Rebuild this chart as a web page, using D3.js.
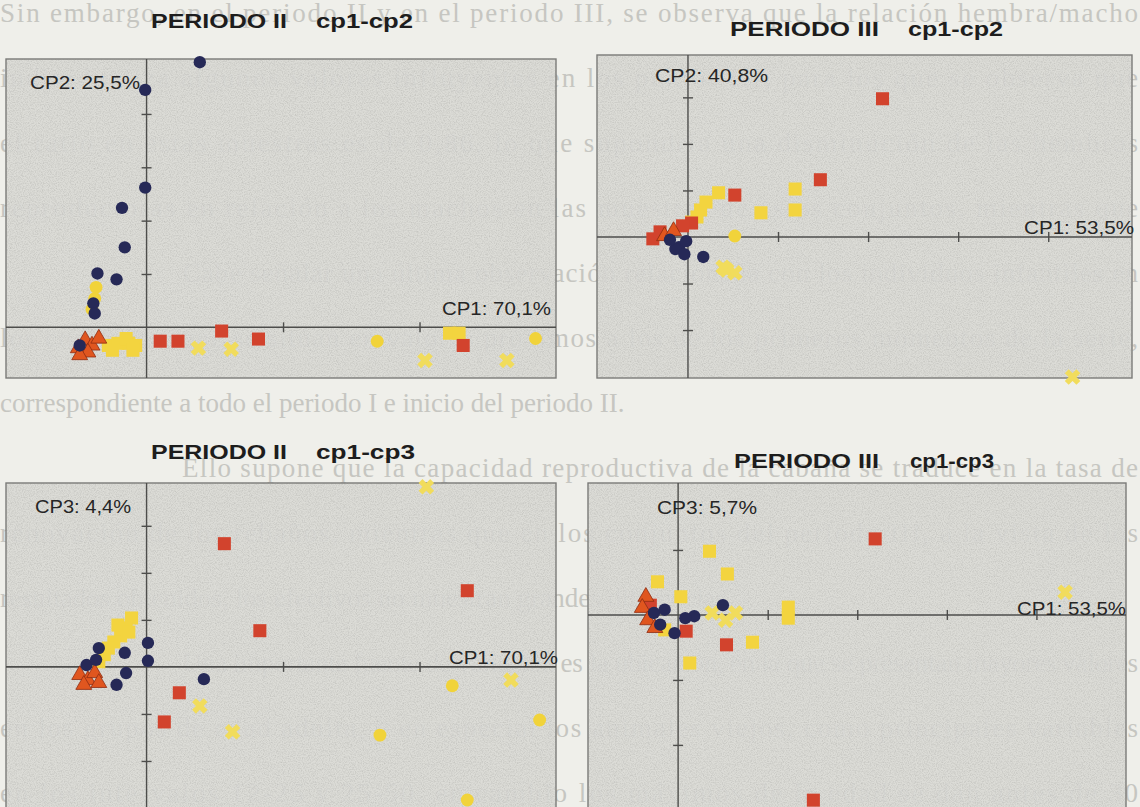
<!DOCTYPE html>
<html>
<head>
<meta charset="utf-8">
<script src="https://cdn.jsdelivr.net/npm/d3@7"></script>
<style>
  html, body { margin: 0; padding: 0; background: #efefea; }
  svg { display: block; }
</style>
</head>
<body>
<svg id="page" width="1140" height="807"></svg>
<script>
// ---- Page text (printed behind the figures) ----
const bodyLines = [
  { text: "Sin embargo, en el periodo II y en el periodo III, se observa que la relación hembra/macho", indent: 0, full: true },
  { text: "individualiza algunos valores influyentes en los puntos III, para los que se observa que", indent: 0, full: true },
  { text: "el ratio en estas muestras es de 0,86, lo que supondría una disminución de las hembras", indent: 0, full: true },
  { text: "reproductoras en relación a los machos en las muestras de estos conjuntos, mientras que", indent: 0, full: true },
  { text: "Cabe señalar una última observación relacionada con los individuos infantiles en", indent: 182, full: true },
  { text: "los conjuntos, que se sitúan en valores próximos a los de los primeros momentos de la serie,", indent: 0, full: true },
  { text: "correspondiente a todo el periodo I e inicio del periodo II.", indent: 0, full: false },
  { text: "Ello supone que la capacidad reproductiva de la cabaña se traduce en la tasa de", indent: 182, full: true },
  { text: "renovación de los rebaños, mientras que en los conjuntos del periodo III, a la vista de los", indent: 0, full: true },
  { text: "resultados obtenidos, los efectivos no muestran grandes diferencias.", indent: 0, full: false },
  { text: "Una importante fuente de variación es la ubicación, en la que se presentan mayores valores", indent: 182, full: true },
  { text: "en los grupos de edad adulta, y en especial los animales viejos, como principales variables", indent: 0, full: true },
  { text: "en los intervalos 12-25 y 25-50, en cambio los máximos de la edad se dan antes de 30", indent: 0, full: true }
];

// ---- Panel titles and axis labels ----
const panelTitles = ["PERIODO II", "PERIODO III", "PERIODO II", "PERIODO III"];
const panelSubtitles = ["cp1-cp2", "cp1-cp2", "cp1-cp3", "cp1-cp3"];
const xAxisLabels = ["CP1: 70,1%", "CP1: 53,5%", "CP1: 70,1%", "CP1: 53,5%"];
const yAxisLabels = ["CP2: 25,5%", "CP2: 40,8%", "CP3: 4,4%", "CP3: 5,7%"];

// ---- Tick values on each axis ----
const xTickValues = [[1, 2], [1, 2, 3, 4], [1, 2], [1, 2, 3, 4]];
const yTickValues = [[1, 2, 3, 4], [-2, -1, 1, 2, 3], [-3, -2, -1, 1, 2, 3], [-3, -2, -1, 1]];

// ---- Scores: PERIODO II, cp1 vs cp2 ----
const p1Navy = [[0.39, 4.97], [-0.01, 4.45], [-0.01, 2.62], [-0.18, 2.24], [-0.16, 1.50], [-0.36, 1.01], [-0.22, 0.90], [-0.39, 0.45], [-0.38, 0.26], [-0.49, -0.34]];
const p1Red = [[0.10, -0.26], [0.23, -0.26], [0.55, -0.07], [0.82, -0.22], [2.32, -0.34]];
const p1YellowSq = [[-0.28, -0.34], [-0.21, -0.30], [-0.13, -0.30], [-0.15, -0.21], [-0.08, -0.34], [-0.25, -0.43], [-0.10, -0.43], [2.22, -0.11], [2.29, -0.11]];
const p1YellowCirc = [[-0.37, 0.75], [-0.38, 0.54], [-0.40, 0.34], [1.69, -0.26], [2.85, -0.21]];
const p1YellowX = [[0.38, -0.39], [0.62, -0.41], [2.04, -0.62], [2.64, -0.62]];
const p1Orange = [[-0.50, -0.39], [-0.45, -0.24], [-0.40, -0.34], [-0.35, -0.21], [-0.43, -0.47], [-0.49, -0.52]];

// ---- Scores: PERIODO III, cp1 vs cp2 ----
const p2Navy = [[-0.10, -0.22], [-0.02, -0.09], [0.17, -0.43], [-0.14, -0.26], [-0.04, -0.37], [-0.20, -0.06]];
const p2Red = [[2.16, 2.97], [1.47, 1.23], [0.52, 0.90], [0.04, 0.30], [-0.06, 0.24], [-0.39, -0.04], [-0.31, 0.11]];
const p2YellowSq = [[0.34, 0.95], [1.19, 1.03], [1.19, 0.58], [0.81, 0.52], [0.14, 0.58], [0.10, 0.43], [0.04, 0.32], [0.20, 0.75]];
const p2YellowCirc = [[0.52, 0.02]];
const p2YellowX = [[0.43, -0.71], [0.52, -0.77], [0.39, -0.65], [4.27, -3.01]];
const p2Orange = [[-0.26, 0.02], [-0.16, 0.13]];

// ---- Scores: PERIODO II, cp1 vs cp3 ----
const p3Navy = [[0.01, 0.51], [0.01, 0.13], [-0.16, 0.30], [-0.15, -0.13], [-0.22, -0.38], [0.42, -0.26], [-0.35, 0.40], [-0.44, 0.04], [-0.37, 0.15]];
const p3Red = [[0.57, 2.62], [2.35, 1.62], [0.83, 0.77], [0.24, -0.55], [0.13, -1.17]];
const p3YellowSq = [[-0.11, 1.04], [-0.15, 0.83], [-0.19, 0.66], [-0.24, 0.53], [-0.28, 0.40], [-0.31, 0.26], [-0.35, 0.11], [-0.21, 0.89], [-0.13, 0.74]];
const p3YellowCirc = [[2.24, -0.40], [1.71, -1.45], [2.88, -1.13], [2.35, -2.83]];
const p3YellowX = [[2.05, 3.83], [0.39, -0.83], [0.63, -1.38], [2.67, -0.28]];
const p3Orange = [[-0.49, -0.17], [-0.43, -0.28], [-0.38, -0.13], [-0.46, -0.38], [-0.35, -0.34]];

// ---- Scores: PERIODO III, cp1 vs cp3 ----
const p4Navy = [[0.50, 0.15], [0.18, -0.02], [-0.04, -0.28], [-0.27, 0.03], [-0.15, 0.08], [0.08, -0.05], [-0.20, -0.15]];
const p4Red = [[2.20, 1.17], [0.54, -0.46], [1.51, -2.85], [0.09, -0.25], [-0.31, 0.15]];
const p4YellowSq = [[0.35, 0.98], [0.55, 0.63], [-0.23, 0.51], [0.03, 0.28], [1.23, 0.12], [1.23, -0.05], [0.83, -0.42], [0.13, -0.74], [-0.15, -0.23]];
const p4YellowCirc = [];
const p4YellowX = [[4.32, 0.35], [0.38, 0.03], [0.64, 0.03], [0.53, -0.08]];
const p4Orange = [[-0.36, 0.28], [-0.40, 0.11], [-0.34, -0.08], [-0.26, -0.20]];

// ---- Layout of the four panels ----
const panels = [
  { box: [6, 59, 556, 378],   xDom: [-1.03, 3.0],  yDom: [-0.95, 5.03],
    title: { a: [151, 136], b: [316, 97], y: 28 },
    yLab: { x: 30, w: 110, y: 89 }, xLab: { x: 551, w: 109, y: 315 },
    series: [p1YellowX, p1YellowCirc, p1YellowSq, p1Red, p1Orange, p1Navy] },
  { box: [597, 55, 1132, 378], xDom: [-1.01, 4.93], yDom: [-3.03, 3.91],
    title: { a: [730, 149], b: [908, 95], y: 36 },
    yLab: { x: 655, w: 113, y: 82 }, xLab: { x: 1134, w: 110, y: 234 },
    series: [p2YellowX, p2YellowCirc, p2YellowSq, p2Red, p2Orange, p2Navy] },
  { box: [6, 483, 556, 832],  xDom: [-1.03, 3.0],  yDom: [-3.51, 3.91],
    title: { a: [151, 136], b: [316, 99], y: 459 },
    yLab: { x: 35, w: 96, y: 513 }, xLab: { x: 558, w: 109, y: 664 },
    series: [p3YellowX, p3YellowCirc, p3YellowSq, p3Red, p3Orange, p3Navy] },
  { box: [588, 483, 1126, 832], xDom: [-1.006, 5.0], yDom: [-3.34, 2.03],
    title: { a: [734, 145], b: [910, 84], y: 468 },
    yLab: { x: 657, w: 100, y: 514 }, xLab: { x: 1126, w: 109, y: 615 },
    series: [p4YellowX, p4YellowCirc, p4YellowSq, p4Red, p4Orange, p4Navy] }
];

const svg = d3.select("#page");

// Grain filter for the plot areas
const defs = svg.append("defs");
const grain = defs.append("filter").attr("id", "grain").attr("x", 0).attr("y", 0).attr("width", "100%").attr("height", "100%");
grain.append("feTurbulence").attr("type", "fractalNoise").attr("baseFrequency", 0.85).attr("numOctaves", 2).attr("seed", 7);
grain.append("feColorMatrix").attr("type", "matrix")
  .attr("values", "0 0 0 0 0.35  0 0 0 0 0.35  0 0 0 0 0.33  1.6 0 0 0 -0.62");

// Page background text
const textLayer = svg.append("g")
  .attr("font-family", "'Liberation Serif', 'Times New Roman', serif")
  .attr("font-size", 27)
  .attr("fill", "#c6c6c1");
bodyLines.forEach((ln, i) => {
  const t = textLayer.append("text")
    .attr("x", ln.indent)
    .attr("y", 22 + i * 65)
    .text(ln.text);
  if (ln.full) {
    t.attr("textLength", 1138 - ln.indent).attr("lengthAdjust", "spacing");
  }
});

const markerStyles = [
  { kind: "x",      fill: "#f1dc5c", size: 150 },
  { kind: "circle", fill: "#f1d33a", size: 130 },
  { kind: "square", fill: "#f3d43f", size: 170 },
  { kind: "square", fill: "#d2432d", size: 170 },
  { kind: "tri",    fill: "#e0561f", size: 110 },
  { kind: "circle", fill: "#262957", size: 120 }
];

panels.forEach((p, pi) => {
  const [x0, y0, x1, y1] = p.box;
  const x = d3.scaleLinear().domain(p.xDom).range([x0, x1]);
  const y = d3.scaleLinear().domain(p.yDom).range([y1, y0]);
  const g = svg.append("g");

  // plot area
  g.append("rect").attr("x", x0).attr("y", y0).attr("width", x1 - x0).attr("height", y1 - y0)
    .attr("fill", "#dadad6").attr("fill-opacity", 0.95);
  g.append("rect").attr("x", x0).attr("y", y0).attr("width", x1 - x0).attr("height", y1 - y0)
    .attr("filter", "url(#grain)").attr("opacity", 0.5);
  g.append("rect").attr("x", x0).attr("y", y0).attr("width", x1 - x0).attr("height", y1 - y0)
    .attr("fill", "none").attr("stroke", "#7b7b78").attr("stroke-width", 1.4);

  // axes through the origin
  const ox = x(0), oy = y(0);
  g.append("line").attr("x1", x0).attr("x2", x1).attr("y1", oy).attr("y2", oy)
    .attr("stroke", "#4d4d4b").attr("stroke-width", 1.6);
  g.append("line").attr("x1", ox).attr("x2", ox).attr("y1", y0).attr("y2", y1)
    .attr("stroke", "#4d4d4b").attr("stroke-width", 1.4);

  g.append("g").attr("transform", `translate(0,${oy - 5})`)
    .call(d3.axisBottom(x).tickValues(xTickValues[pi]).tickSize(10).tickFormat(""))
    .call(a => a.select(".domain").remove())
    .call(a => a.selectAll("line").attr("stroke", "#4d4d4b").attr("stroke-width", 1.4));
  g.append("g").attr("transform", `translate(${ox + 5},0)`)
    .call(d3.axisLeft(y).tickValues(yTickValues[pi]).tickSize(10).tickFormat(""))
    .call(a => a.select(".domain").remove())
    .call(a => a.selectAll("line").attr("stroke", "#4d4d4b").attr("stroke-width", 1.4));

  // axis labels
  g.append("text").attr("x", p.yLab.x).attr("y", p.yLab.y)
    .attr("font-family", "'Liberation Sans', Arial, sans-serif").attr("font-size", 19)
    .attr("fill", "#262626").attr("textLength", p.yLab.w).attr("lengthAdjust", "spacingAndGlyphs")
    .text(yAxisLabels[pi]);
  g.append("text").attr("x", p.xLab.x - p.xLab.w).attr("y", p.xLab.y)
    .attr("font-family", "'Liberation Sans', Arial, sans-serif").attr("font-size", 19)
    .attr("fill", "#262626").attr("textLength", p.xLab.w).attr("lengthAdjust", "spacingAndGlyphs")
    .text(xAxisLabels[pi]);

  // panel title
  const tg = g.append("g").attr("font-family", "'Liberation Sans', Arial, sans-serif")
    .attr("font-weight", "bold").attr("font-size", 21).attr("fill", "#1d1d1d");
  tg.append("text").attr("x", p.title.a[0]).attr("y", p.title.y)
    .attr("textLength", p.title.a[1]).attr("lengthAdjust", "spacingAndGlyphs").text(panelTitles[pi]);
  tg.append("text").attr("x", p.title.b[0]).attr("y", p.title.y)
    .attr("textLength", p.title.b[1]).attr("lengthAdjust", "spacingAndGlyphs").text(panelSubtitles[pi]);

  // markers
  p.series.forEach((pts, si) => {
    const st = markerStyles[si];
    const layer = g.append("g");
    if (st.kind === "circle") {
      layer.selectAll("circle").data(pts).join("circle")
        .attr("cx", d => x(d[0])).attr("cy", d => y(d[1]))
        .attr("r", Math.sqrt(st.size / Math.PI)).attr("fill", st.fill);
    } else {
      const type = st.kind === "square" ? d3.symbolSquare : st.kind === "tri" ? d3.symbolTriangle : d3.symbolCross;
      const rot = st.kind === "x" ? 45 : 0;
      layer.selectAll("path").data(pts).join("path")
        .attr("d", d3.symbol().type(type).size(st.size))
        .attr("transform", d => `translate(${x(d[0])},${y(d[1])}) rotate(${rot})`)
        .attr("fill", st.fill)
        .attr("stroke", st.kind === "tri" ? "#8e2c12" : "none")
        .attr("stroke-width", 0.8);
    }
  });
});
</script>
</body>
</html>
